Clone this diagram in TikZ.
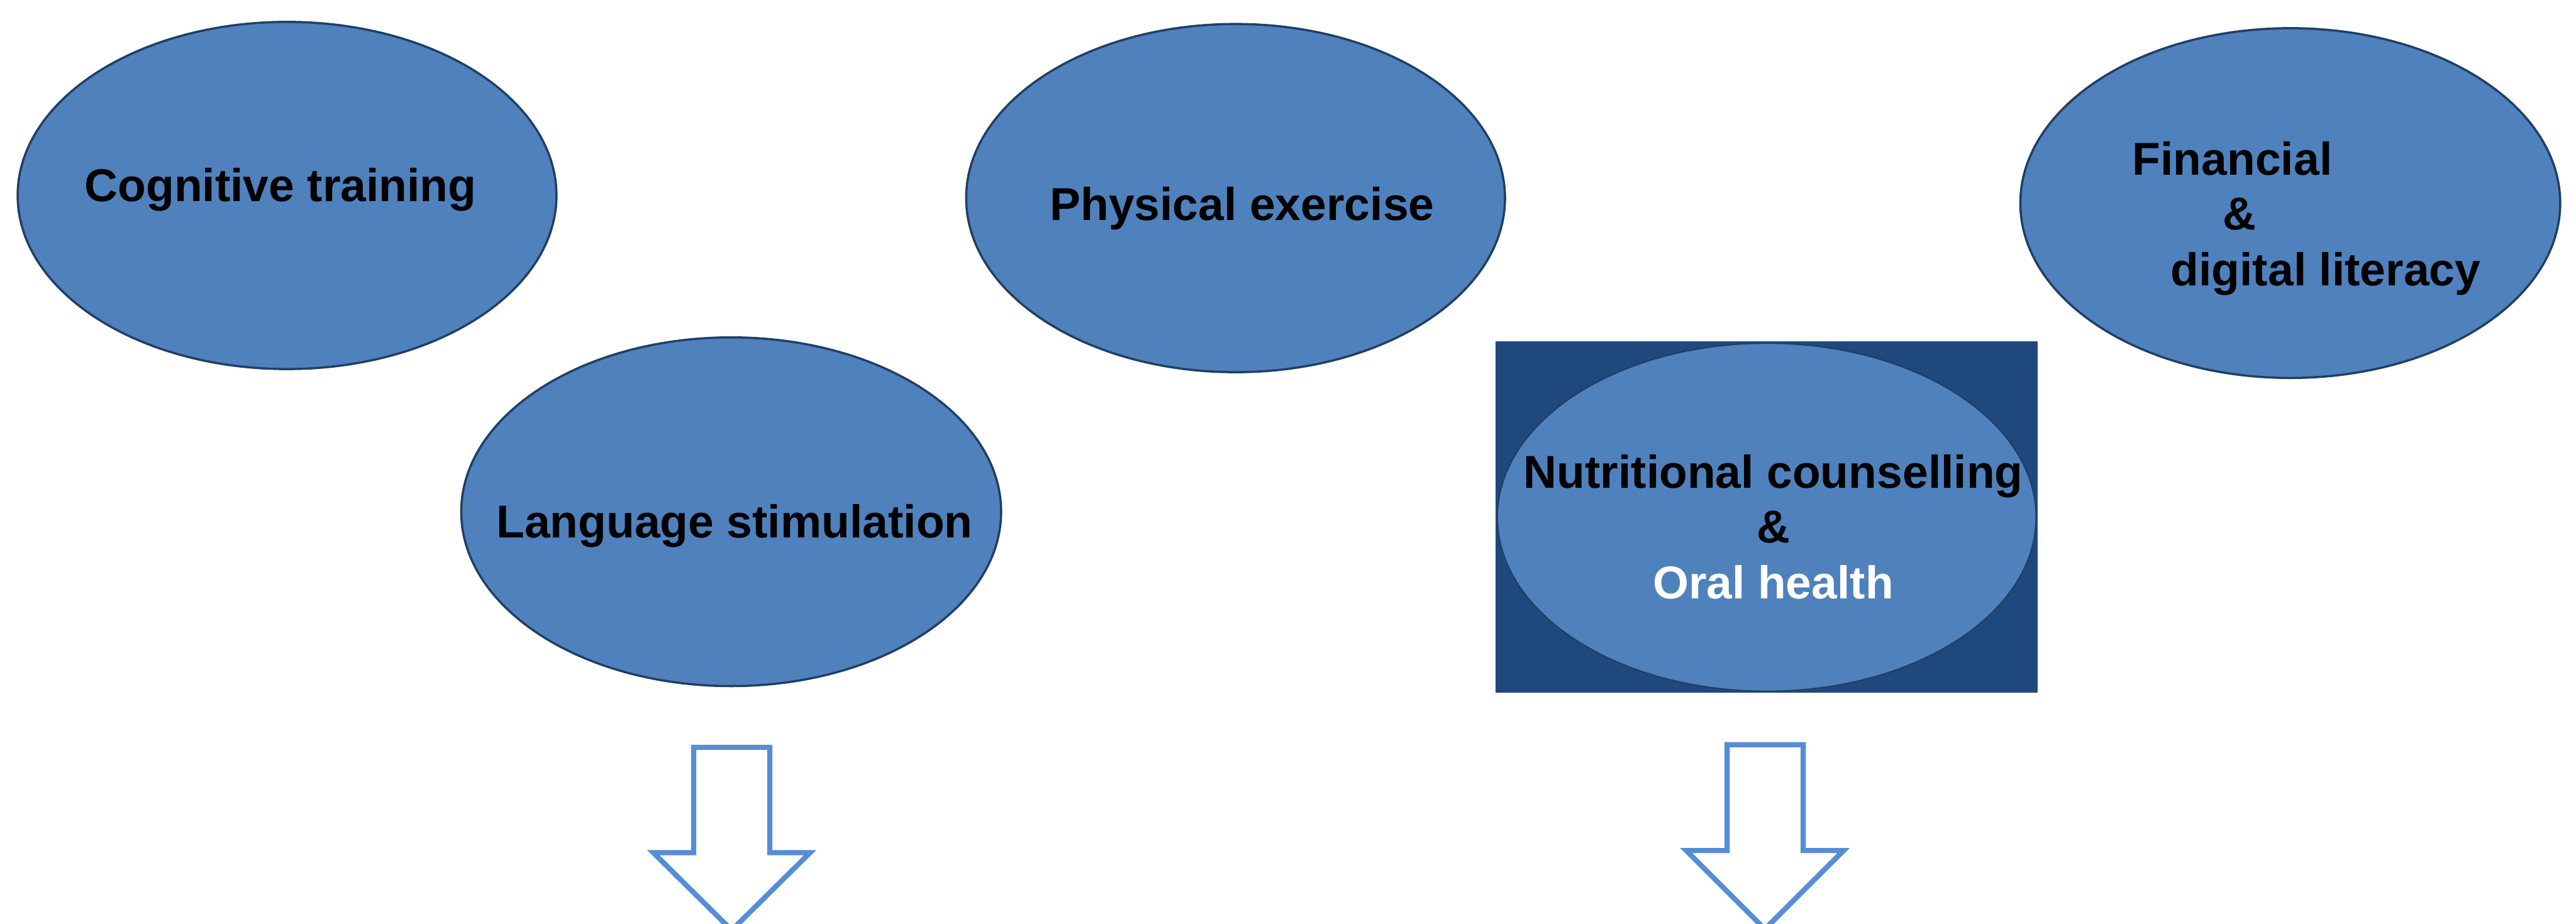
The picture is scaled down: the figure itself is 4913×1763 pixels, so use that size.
\documentclass[tikz,border=0pt]{standalone}
\usepackage{fontspec}
\setmainfont{Liberation Sans}
\usetikzlibrary{shapes.geometric}
\definecolor{ellfill}{HTML}{4F81BD}
\definecolor{elldraw}{HTML}{213F63}
\definecolor{rectfill}{HTML}{1F497D}
\definecolor{arrowblue}{HTML}{558ED5}
\tikzset{
  oval/.style={ellipse, draw=elldraw, fill=ellfill, line width=1.2pt, inner sep=0pt, outer sep=0pt},
  lbl/.style={inner sep=0pt, outer sep=0pt, anchor=base, font=\fontsize{25}{30}\selectfont\bfseries},
  lblw/.style={lbl, anchor=base west},
  blockarrow/.style={draw=arrowblue, line width=2.8pt, fill=white, line join=miter},
}
\begin{document}
\begin{tikzpicture}[x=0.01cm, y=-0.01cm]
\useasboundingbox (0,0) rectangle (4913,1763);
\clip (0,0) rectangle (4913,1763);
\fill[white] (0,0) rectangle (4913,1763);

% ellipses
\node[oval, minimum width=10.27cm, minimum height=6.62cm] (cog) at (547.5,373) {};
\node[oval, minimum width=10.27cm, minimum height=6.64cm] (phy) at (2356.5,378) {};
\node[oval, minimum width=10.29cm, minimum height=6.67cm] (fin) at (4368,387.5) {};
\node[oval, minimum width=10.29cm, minimum height=6.65cm] (lan) at (1394.5,976.5) {};

\node[fill=rectfill, inner sep=0pt, outer sep=0pt, minimum width=10.33cm, minimum height=6.70cm] (nutbg) at (3369.5,987) {};
\node[oval, line width=0.8pt, minimum width=10.27cm, minimum height=6.64cm] (nut) at (3369.5,987) {};

% labels
\node[lbl] (cogt) at (535,385) {Cognitive training};
\node[lbl] (phyt) at (2369,421) {Physical exercise};
\node[lbl] (lant) at (1401,1026) {Language stimulation};

\node[lbl] (nut1) at (3382,931) {Nutritional counselling};
\node[lbl] (nut2) at (3382,1036) {\&};
\node[lbl, text=white] (nut3) at (3382,1142) {Oral health};

\node[lblw] (fin1) at (4067,333.5) {Financial};
\node[lblw] (fin2) at (4240,438.7) {\&};
\node[lblw] (fin3) at (4140,545) {digital literacy};

% block arrows
\coordinate (a1) at (1395.5,1775);
\draw[blockarrow] (1323,1426) -- (1468,1426) -- (1468,1627) -- (1545,1627)
  -- (a1) -- (1246,1627) -- (1323,1627) -- cycle;
\coordinate (a2) at (3366,1773);
\draw[blockarrow] (3294,1421) -- (3439,1421) -- (3439,1623) -- (3516,1623)
  -- (a2) -- (3216,1623) -- (3294,1623) -- cycle;
\end{tikzpicture}
\end{document}
